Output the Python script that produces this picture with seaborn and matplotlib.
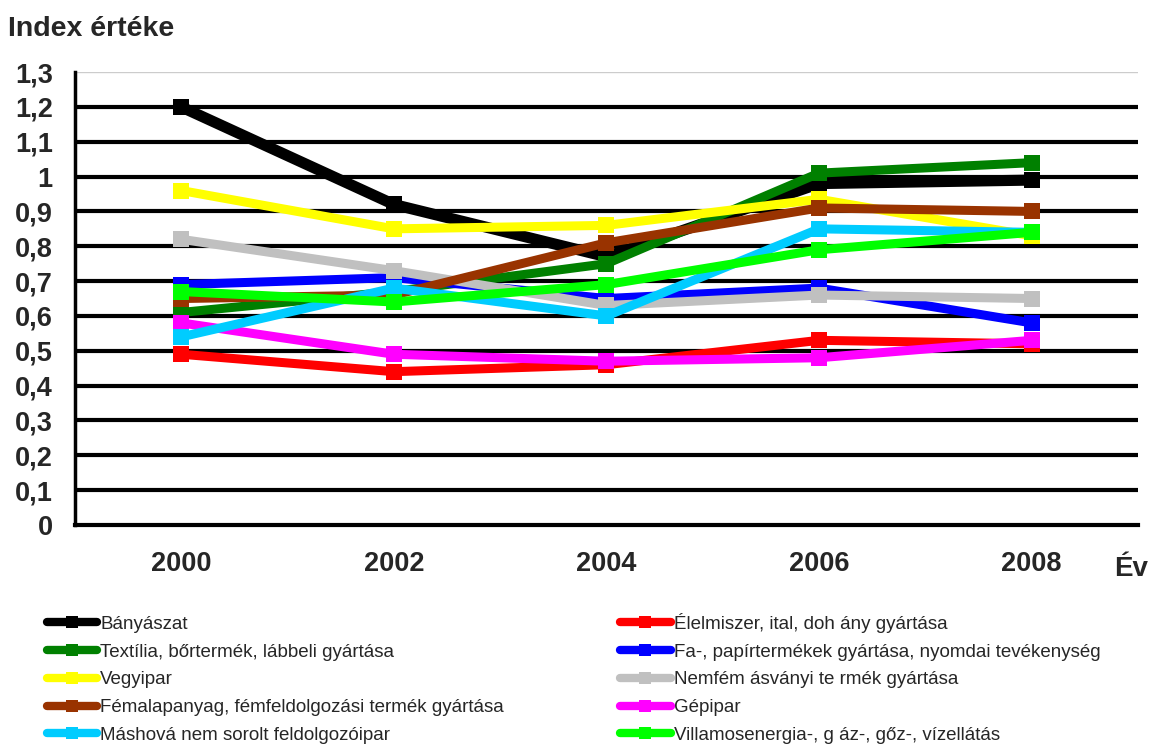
import numpy as np
import pandas as pd
import matplotlib
matplotlib.use("Agg")
import matplotlib.pyplot as plt
import seaborn as sns

# data
years = ["2000", "2002", "2004", "2006", "2008"]
series_names = [
    "Bányászat",
    "Élelmiszer, ital, doh ány gyártása",
    "Textília, bőrtermék, lábbeli gyártása",
    "Fa-, papírtermékek gyártása, nyomdai tevékenység",
    "Vegyipar",
    "Nemfém ásványi te rmék gyártása",
    "Fémalapanyag, fémfeldolgozási termék gyártása",
    "Gépipar",
    "Máshová nem sorolt feldolgozóipar",
    "Villamosenergia-, g áz-, gőz-, vízellátás",
]
banyaszat = [1.20, 0.92, 0.77, 0.98, 0.99]
elelmiszer = [0.49, 0.44, 0.46, 0.53, 0.52]
textilia = [0.61, 0.67, 0.75, 1.01, 1.04]
fa_papir = [0.69, 0.71, 0.65, 0.68, 0.58]
vegyipar = [0.96, 0.85, 0.86, 0.935, 0.83]
nemfem = [0.82, 0.73, 0.63, 0.66, 0.65]
femalap = [0.65, 0.66, 0.81, 0.91, 0.90]
gepipar = [0.58, 0.49, 0.47, 0.48, 0.53]
mashova = [0.54, 0.68, 0.60, 0.85, 0.84]
villamos = [0.67, 0.64, 0.69, 0.79, 0.84]
colors = ["#000000", "#ff0000", "#008000", "#0000ff", "#ffff00",
          "#c0c0c0", "#993300", "#ff00ff", "#00ccff", "#00ff00"]

values = [banyaszat, elelmiszer, textilia, fa_papir, vegyipar,
          nemfem, femalap, gepipar, mashova, villamos]
rows = []
for name, vals in zip(series_names, values):
    for i, v in enumerate(vals):
        rows.append({"sor": name, "pos": i, "ertek": v})
df = pd.DataFrame(rows)

sns.set_style("white")
plt.rcParams["font.family"] = ["Liberation Sans", "DejaVu Sans"]

fig = plt.figure(figsize=(11.53, 7.51), dpi=100)
ax = fig.add_axes([0.065, 0.301, 0.922, 0.603])

# horizontal grid
for yv in np.arange(0.1, 1.25, 0.1):
    ax.axhline(yv, color="black", lw=3, zorder=1)
ax.axhline(1.3, color="#cccccc", lw=1, zorder=1)

sns.lineplot(data=df, x="pos", y="ertek", hue="sor", hue_order=series_names,
             palette=colors, marker="s", markersize=11, markeredgewidth=0,
             lw=6.5, ax=ax, legend=False, zorder=3)
# the mining line is drawn a bit heavier in the original
ax.get_lines()[-10].set_linewidth(8)

ax.set_xlim(-0.5, 4.5)
ax.set_ylim(0, 1.3)
yt = np.round(np.arange(0, 1.31, 0.1), 1)
ax.set_yticks(yt)
ax.set_yticklabels([("%g" % v).replace(".", ",") for v in yt],
                   fontsize=19.5, fontweight="bold")
ax.set_xticks(np.arange(-0.5, 4.6, 1))
ax.set_xticklabels([])
ax.set_xticks(range(5), minor=True)
ax.set_xticklabels(years, minor=True, fontsize=19.5, fontweight="bold")
ax.tick_params(axis="x", which="major", direction="out", length=9, width=2, color="black")
ax.tick_params(axis="x", which="minor", length=0, pad=19)
ax.tick_params(axis="y", direction="out", length=7, width=2, color="black", pad=9)
ax.set_xlabel("")
ax.set_ylabel("")

for side in ["top", "right"]:
    ax.spines[side].set_visible(False)
ax.spines["left"].set_linewidth(2.5)
ax.spines["left"].set_color("black")
ax.spines["bottom"].set_linewidth(3)
ax.spines["bottom"].set_color("black")

fig.text(0.007, 0.962, "Index értéke", fontsize=20.5, fontweight="bold", va="center")
fig.text(0.966, 0.243, "Év", fontsize=20, fontweight="bold", va="center")

# legend in two columns, row-major like the original
handles = []
for c in colors:
    handles.append(plt.Line2D([], [], color=c, lw=6, marker="s", markersize=9,
                              markeredgewidth=0))
order = [0, 2, 4, 6, 8, 1, 3, 5, 7, 9]
fig.legend([handles[i] for i in order], [series_names[i] for i in order],
           loc="upper left", bbox_to_anchor=(0.034, 0.194), ncol=2,
           frameon=False, fontsize=13.5, handlelength=2.7, handletextpad=0.15,
           columnspacing=6.2, labelspacing=0.57, borderaxespad=0)

fig.savefig("out.png", dpi=100)
